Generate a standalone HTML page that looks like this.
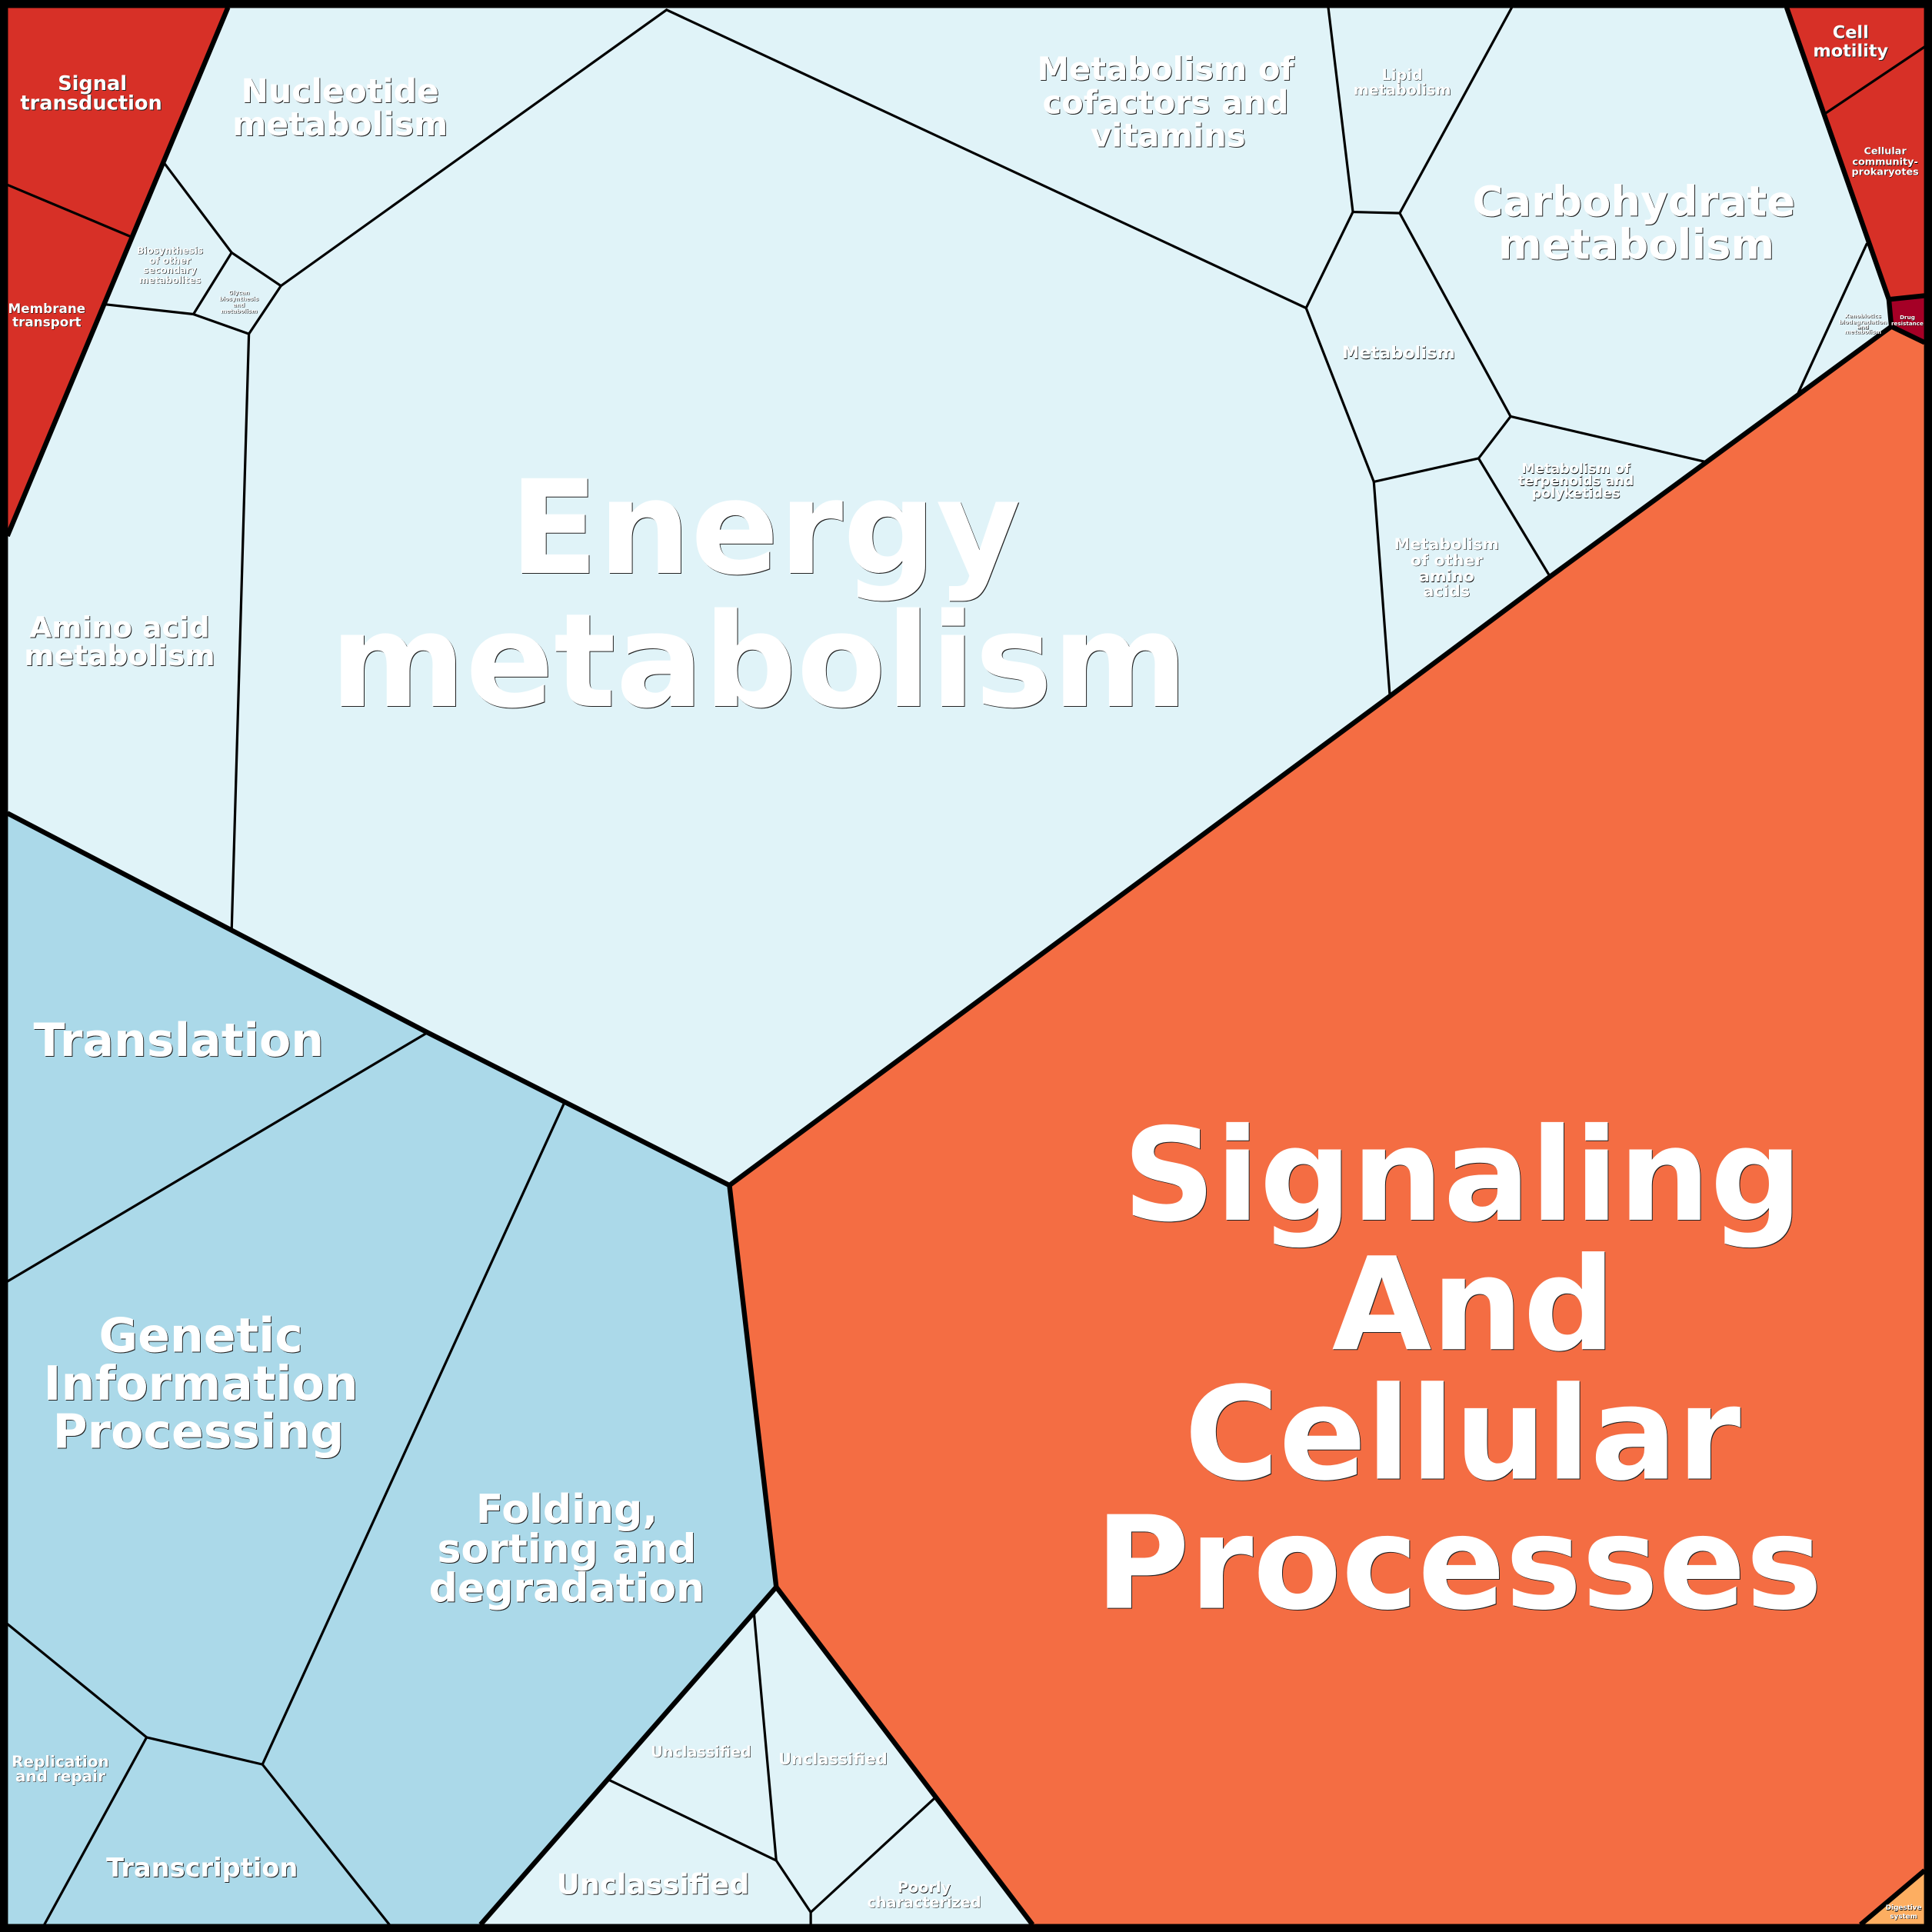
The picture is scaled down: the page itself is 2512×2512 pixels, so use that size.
<!DOCTYPE html>
<html><head><meta charset="utf-8"><style>
html,body{margin:0;padding:0;background:#000;}
svg{display:block;}
text{font-family:"DejaVu Sans","Liberation Sans",sans-serif;font-weight:bold;fill:#fff;text-anchor:middle;text-shadow:1px 1px 0 #222;}
.s{text-shadow:0.6px 0.6px 0 #000;}
</style></head><body>
<svg width="2512" height="2512" viewBox="0 0 1568 1568" xmlns="http://www.w3.org/2000/svg">
<rect x="0" y="0" width="1568" height="1568" fill="#000"/>
<rect x="6" y="6" width="1556" height="1556" fill="#e0f3f8"/>
<polygon points="6,660 188,755 347,838 592,962 630,1288 390,1562 6,1562" fill="#abd9e9"/>
<polygon points="630,1288 838,1562 390,1562" fill="#e0f3f8"/>
<polygon points="1535,265 1562,278 1562,1562 838,1562 630,1288 592,962" fill="#f46d43"/>
<polygon points="6,6 185,6 6,435" fill="#d73027"/>
<polygon points="1450,6 1562,6 1562,240 1533,243" fill="#d73027"/>
<polygon points="1533,243 1562,240 1562,278 1535,265" fill="#a50026"/>
<polygon points="1510,1562 1562,1518 1562,1562" fill="#fdae61"/>

<g stroke="#000" stroke-width="2" fill="none" stroke-linecap="round">
<polyline points="541,8 1060,250"/>
<polyline points="228,232 541,8"/>
<polyline points="133,132 188,205 228,232 202,271 188,755"/>
<polyline points="188,205 157,255 202,271"/>
<polyline points="85,247 157,255"/>
<polyline points="1078,6 1098,172 1136,173 1227,6"/>
<polyline points="1098,172 1060,250 1115,391 1200,372 1226,338 1136,173"/>
<polyline points="1226,338 1385,375"/>
<polyline points="1200,372 1258,468"/>
<polyline points="1115,391 1128,565"/>
<polyline points="1515,198 1458,322"/>
<polyline points="6,150 106,192"/>
<polyline points="1480,93 1562,38"/>
<polyline points="6,1040 347,838"/>
<polyline points="458,895 213,1432"/>
<polyline points="6,1318 119,1410 213,1432 316,1562"/>
<polyline points="119,1410 36,1562"/>
<polyline points="612,1310 630,1510 658,1552 658,1562"/>
<polyline points="493,1444 630,1510"/>
<polyline points="658,1552 760,1458"/>
</g>
<g stroke="#000" stroke-width="4" fill="none" stroke-linejoin="round">
<polyline points="185,6 6,435"/>
<polyline points="1450,6 1533,243 1562,240"/>
<polyline points="1533,243 1535,265 1562,278"/>
<polyline points="1535,265 1385,375 1258,468 1128,565 592,962"/>
<polyline points="6,660 188,755 347,838 592,962 630,1288 838,1562"/>
<polyline points="630,1288 390,1562"/>
<polyline points="1510,1562 1562,1518"/>
</g>
<rect x="3" y="3" width="1562" height="1562" fill="none" stroke="#000" stroke-width="7"/>

<text font-size="105.5" x="621" y="465">Energy</text>
<text font-size="105.5" x="616" y="573">metabolism</text>
<text font-size="104.5" x="1187" y="990">Signaling</text>
<text font-size="104.5" x="1196" y="1095">And</text>
<text font-size="104.5" x="1187" y="1200">Cellular</text>
<text font-size="104.5" x="1184" y="1305">Processes</text>
<text font-size="37.5" x="145" y="857">Translation</text>
<text font-size="38.5" x="163" y="1097">Genetic</text>
<text font-size="38.5" x="163" y="1136">Information</text>
<text font-size="38.5" x="161" y="1175">Processing</text>
<text font-size="32.5" x="460" y="1236">Folding,</text>
<text font-size="32.5" x="460" y="1268">sorting and</text>
<text font-size="32.5" x="460" y="1300">degradation</text>
<text font-size="26.5" x="276" y="83">Nucleotide</text>
<text font-size="26.5" x="276" y="110">metabolism</text>
<text font-size="26" x="946" y="65">Metabolism of</text>
<text font-size="26" x="946" y="92">cofactors and</text>
<text font-size="26" x="948" y="119">vitamins</text>
<text font-size="34" x="1326" y="175">Carbohydrate</text>
<text font-size="34" x="1328" y="210">metabolism</text>
<text font-size="23.5" x="97" y="517">Amino acid</text>
<text font-size="23.5" x="97" y="540">metabolism</text>
<text font-size="16" x="75" y="73">Signal</text>
<text font-size="16" x="74" y="89">transduction</text>
<text class="s" font-size="10.5" x="38" y="254">Membrane</text>
<text class="s" font-size="10.5" x="38" y="265">transport</text>
<text font-size="14" x="1502" y="31">Cell</text>
<text font-size="14" x="1502" y="46">motility</text>
<text class="s" font-size="8" x="1530" y="125">Cellular</text>
<text class="s" font-size="8" x="1530" y="134">community-</text>
<text class="s" font-size="8" x="1530" y="142">prokaryotes</text>
<text class="s" font-size="12" x="1138" y="65">Lipid</text>
<text class="s" font-size="12" x="1138" y="77">metabolism</text>
<text class="s" font-size="14" x="1135" y="291">Metabolism</text>
<text class="s" font-size="11" x="1279" y="384">Metabolism of</text>
<text class="s" font-size="11" x="1279" y="394">terpenoids and</text>
<text class="s" font-size="11" x="1279" y="404">polyketides</text>
<text class="s" font-size="13" x="1174" y="446">Metabolism</text>
<text class="s" font-size="13" x="1174" y="459">of other</text>
<text class="s" font-size="13" x="1174" y="472">amino</text>
<text class="s" font-size="13" x="1174" y="484">acids</text>
<text class="s" font-size="7.5" x="138" y="206">Biosynthesis</text>
<text class="s" font-size="7.5" x="138" y="214">of other</text>
<text class="s" font-size="7.5" x="138" y="222">secondary</text>
<text class="s" font-size="7.5" x="138" y="230">metabolites</text>
<text class="s" font-size="4.5" x="194" y="239">Glycan</text>
<text class="s" font-size="4.5" x="194" y="244">biosynthesis</text>
<text class="s" font-size="4.5" x="194" y="249">and</text>
<text class="s" font-size="4.5" x="194" y="254">metabolism</text>
<text class="s" font-size="4.5" x="1512" y="258">Xenobiotics</text>
<text class="s" font-size="4.5" x="1512" y="263">biodegradation</text>
<text class="s" font-size="4.5" x="1512" y="267">and</text>
<text class="s" font-size="4.5" x="1512" y="271">metabolism</text>
<text class="s" font-size="4.5" x="1548" y="259">Drug</text>
<text class="s" font-size="4.5" x="1548" y="264">resistance</text>
<text class="s" font-size="5.5" x="1545" y="1550">Digestive</text>
<text class="s" font-size="5.5" x="1545" y="1557">system</text>
<text class="s" font-size="12.5" x="49" y="1434">Replication</text>
<text class="s" font-size="12.5" x="49" y="1446">and repair</text>
<text font-size="21" x="164" y="1523">Transcription</text>
<text class="s" font-size="12" x="569" y="1426">Unclassified</text>
<text class="s" font-size="13" x="676" y="1432">Unclassified</text>
<text font-size="23" x="530" y="1537">Unclassified</text>
<text class="s" font-size="12" x="750" y="1536">Poorly</text>
<text class="s" font-size="12" x="750" y="1548">characterized</text>
</svg>
</body></html>
